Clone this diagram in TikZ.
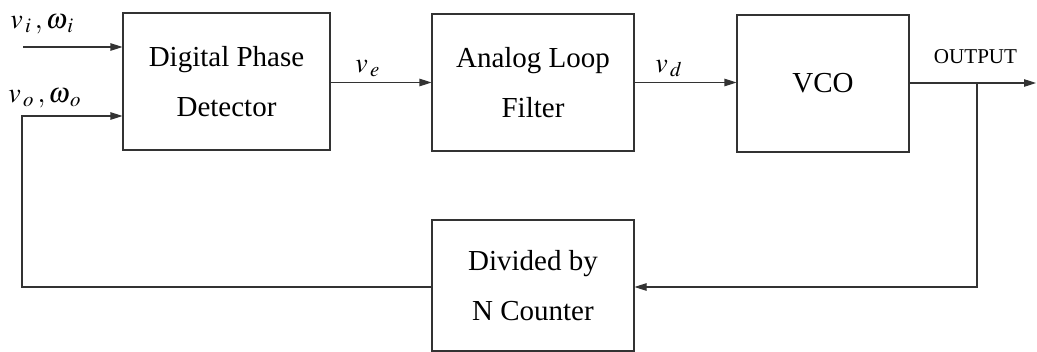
\documentclass[tikz,border=0pt]{standalone}
\usepackage{mathptmx}
\usepackage{fontspec}
\setmainfont{Liberation Serif}
\usetikzlibrary{arrows.meta}

\begin{document}
\begin{tikzpicture}

\useasboundingbox (0,0) rectangle (20.74,-7.04);

\tikzstyle{every node}=[font=\fontsize{16.5}{28}\selectfont];
\tikzstyle{block}=[draw=black!80,line width=0.6pt,shape=rectangle,minimum height=2.74cm,align=center,inner sep=0pt];
\tikzstyle{wire}=[draw=black!80,line width=0.6pt];
\tikzstyle{arr}=[wire,-{Triangle[length=2.4mm,width=1.5mm]}];
\tikzstyle{sig}=[font=\fontsize{16}{18}\selectfont,inner sep=0pt];

% Draw the loop blocks
\node[block,minimum width=4.14cm] (pd) at (4.53,-1.63) {Digital Phase\\Detector};
\node[block,minimum width=4.04cm] (lf) at (10.66,-1.65) {Analog Loop\\Filter};
\node[block,minimum width=3.44cm] (vco) at (16.46,-1.67) {VCO};
\node[block,minimum width=4.04cm,minimum height=2.62cm] (div) at (10.66,-5.71) {Divided by\\N Counter};

% Free ends and corners of the connectors
\coordinate (vi) at (0.46,-0.94);
\coordinate (vo) at (0.44,-2.32);
\coordinate (out) at (20.72,-1.66);
\coordinate (tap) at (19.54,-1.66);
\coordinate (fbr) at (19.54,-5.74);
\coordinate (fbl) at (0.44,-5.74);

% Forward path
\draw[arr] (vi) -- (vi -| pd.west);
\draw[arr] (pd.east |- lf.west) -- (lf.west);
\draw[arr] (lf.east) -- (lf.east -| vco.west);
\draw[arr] (vco.east |- out) -- (out);

% Feedback path through the counter
\draw[arr] (tap) -- (fbr) -- (fbr -| div.east);
\draw[arr] (fbl -| div.west) -- (fbl) -- (vo) -- (vo -| pd.west);

% Signal labels
\node[sig,anchor=base west] (lvi) at (0.2,-0.56) {$v_{\,i}\,,\omega_{\,i}$};
\node[sig,anchor=base west] (lvo) at (0.16,-2.04) {$v_{\,o}\,,\omega_{\,o}$};
\node[sig,anchor=base west] (lve) at (7.1,-1.44) {$v_{\,e}$};
\node[sig,anchor=base west] (lvd) at (13.1,-1.44) {$v_{\,d}$};
\node[font=\fontsize{12}{14}\selectfont,inner sep=0pt,anchor=base] (lout) at (19.51,-1.26) {OUTPUT};

\end{tikzpicture}
\end{document}
